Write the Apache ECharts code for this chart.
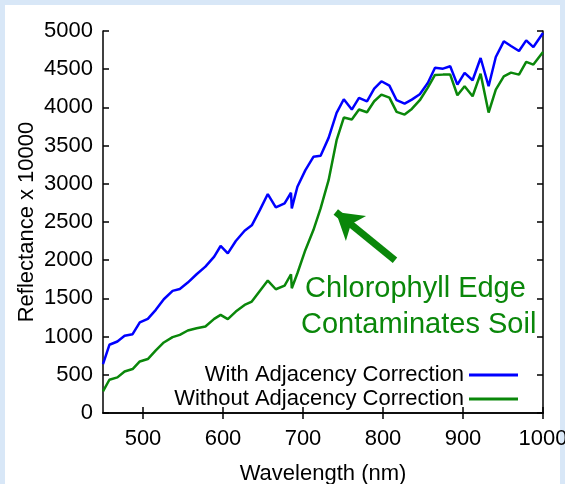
<!DOCTYPE html>
<html>
<head>
<meta charset="utf-8">
<script src="https://cdn.jsdelivr.net/npm/echarts@6/dist/echarts.min.js"></script>
<style>
  html, body { margin: 0; padding: 0; background: #d8e7f7; }
  #chart { width: 565px; height: 484px; }
</style>
</head>
<body>
<div id="chart"></div>
<script>
// wavelength (nm) of each sample
const wavelengths = [450, 458, 468, 477, 487, 496, 506, 516, 526, 537, 546, 556, 567, 578, 589, 597, 606, 616, 627, 636,
  646, 656, 666, 677, 685, 686, 693, 703, 713, 722, 732, 742, 751, 761, 770, 780, 789, 798, 808, 817,
  827, 836, 846, 856, 865, 875, 884, 893, 902, 912, 922, 932, 941, 951, 960, 970, 979, 988, 1000];
const withCorrection = [640, 893, 936, 1010, 1032, 1185, 1232, 1350, 1489, 1598, 1624, 1707, 1816, 1916, 2047, 2186, 2090, 2251, 2386, 2456,
  2656, 2866, 2691, 2744, 2883, 2678, 2961, 3179, 3353, 3366, 3601, 3928, 4107, 3972, 4124, 4079, 4246, 4342, 4285, 4094,
  4050, 4102, 4172, 4320, 4520, 4507, 4538, 4298, 4451, 4355, 4647, 4277, 4660, 4865, 4804, 4738, 4877, 4790, 4973];
const withoutCorrection = [283, 435, 466, 544, 575, 675, 706, 819, 923, 993, 1023, 1080, 1110, 1132, 1232, 1285, 1228, 1328, 1415, 1459,
  1598, 1733, 1620, 1668, 1816, 1633, 1829, 2134, 2395, 2678, 3048, 3571, 3867, 3841, 3972, 3937, 4081, 4168, 4128, 3941,
  3906, 3980, 4094, 4259, 4425, 4429, 4429, 4159, 4277, 4146, 4442, 3932, 4233, 4407, 4455, 4429, 4595, 4560, 4725];
const xTicks = [500, 600, 700, 800, 900, 1000];
// arrow pointing at the red edge: [tail, head] in data units
const arrowFrom = [815, 2000];
const arrowTo = [741, 2630];

const font = "Liberation Sans";
const green = "#0a870a";

function pairs(ys) {
  return wavelengths.map((w, i) => [w, ys[i]]);
}
const plain = (v) => String(v);

const axisLine = { show: true, lineStyle: { color: "#000", width: 1.5 } };
const tickIn = { show: true, inside: true, length: 6, lineStyle: { color: "#000", width: 1.5 } };

let option = {
  backgroundColor: "#d8e7f7",
  animation: false,
  textStyle: { fontFamily: font },
  graphic: [
    { type: "rect", z: -10, shape: { x: 5, y: 5, width: 555, height: 484 }, style: { fill: "#fff" } },
    {
      type: "text", left: 305, top: 274,
      style: { text: "Chlorophyll Edge", fill: green, font: "29px " + font },
    },
    {
      type: "text", left: 301, top: 310,
      style: { text: "Contaminates Soil", fill: green, font: "29px " + font },
    },
  ],
  grid: { left: 103, right: 22, top: 31, bottom: 71, outerBoundsMode: "none" },
  legend: {
    orient: "vertical",
    align: "right",
    right: 42,
    top: 359,
    icon: "rect",
    itemWidth: 49,
    itemHeight: 3,
    itemGap: 2,
    textStyle: { fontSize: 22, color: "#000", fontFamily: font },
    data: ["With Adjacency Correction", "Without Adjacency Correction"],
  },
  xAxis: [
    {
      type: "value",
      min: 450,
      max: 1000,
      name: "Wavelength (nm)",
      nameLocation: "middle",
      nameGap: 50,
      nameTextStyle: { fontSize: 22, color: "#000" },
      axisLine: axisLine,
      axisTick: Object.assign({ customValues: xTicks }, tickIn),
      axisLabel: { customValues: xTicks, fontSize: 22, color: "#000", margin: 15, formatter: plain },
      splitLine: { show: false },
    },
    {
      type: "value",
      position: "top",
      min: 450,
      max: 1000,
      axisLine: axisLine,
      axisTick: Object.assign({ customValues: xTicks }, tickIn),
      axisLabel: { show: false },
      splitLine: { show: false },
    },
  ],
  yAxis: [
    {
      type: "value",
      min: 0,
      max: 5000,
      interval: 500,
      name: "Reflectance x 10000",
      nameLocation: "middle",
      nameGap: 65,
      nameMoveOverlap: false,
      nameTextStyle: { fontSize: 22, color: "#000" },
      axisLine: axisLine,
      axisTick: tickIn,
      axisLabel: { fontSize: 22, color: "#000", margin: 10, formatter: plain },
      splitLine: { show: false },
    },
    {
      type: "value",
      position: "right",
      min: 0,
      max: 5000,
      interval: 500,
      axisLine: axisLine,
      axisTick: tickIn,
      axisLabel: { show: false },
      splitLine: { show: false },
    },
  ],
  series: [
    {
      name: "With Adjacency Correction",
      type: "line",
      symbol: "none",
      data: pairs(withCorrection),
      lineStyle: { color: "#0000ff", width: 2.5 },
      itemStyle: { color: "#0000ff" },
    },
    {
      name: "Without Adjacency Correction",
      type: "line",
      symbol: "none",
      data: pairs(withoutCorrection),
      lineStyle: { color: green, width: 2.5 },
      itemStyle: { color: green },
      markLine: {
        silent: true,
        symbol: ["none", "arrow"],
        symbolSize: [24, 26],
        label: { show: false },
        lineStyle: { color: green, width: 7, type: "solid" },
        data: [[{ coord: arrowFrom }, { coord: arrowTo }]],
      },
    },
  ],
};

var chartDom = document.getElementById("chart");
let mychart = echarts.init(chartDom);
mychart.setOption(option);
</script>
</body>
</html>
